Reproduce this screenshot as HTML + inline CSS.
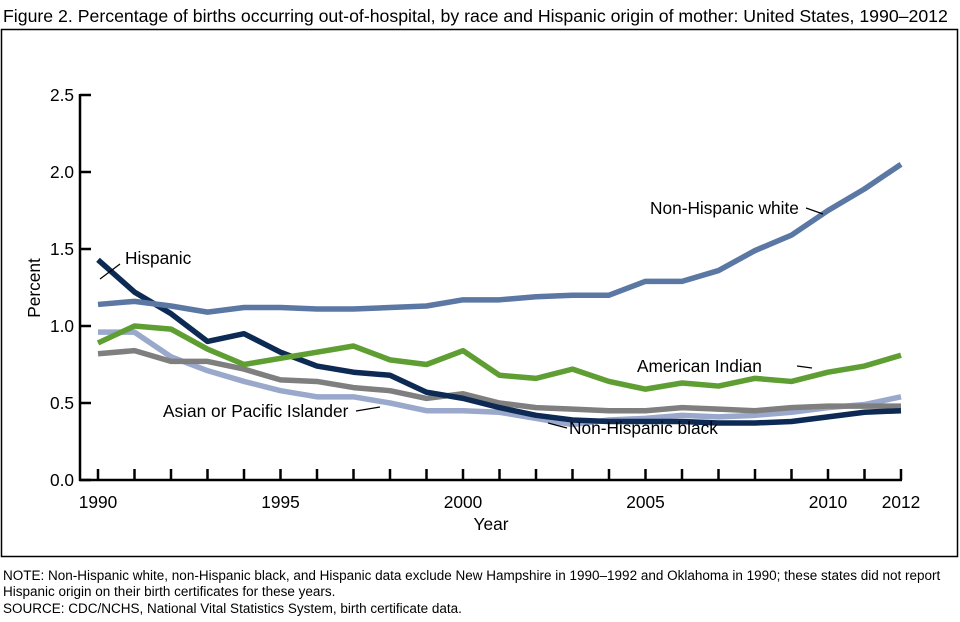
<!DOCTYPE html>
<html><head><meta charset="utf-8"><style>
body{margin:0;background:#fff;width:960px;height:617px;overflow:hidden;font-family:"Liberation Sans",Arial,sans-serif}
</style></head><body>
<svg id="s" width="960" height="617" xmlns="http://www.w3.org/2000/svg" font-family="Liberation Sans, Arial, sans-serif">
<text x="3" y="22" font-size="17.7" fill="#000">Figure 2. Percentage of births occurring out-of-hospital, by race and Hispanic origin of mother: United States, 1990–2012</text>
<rect x="1.5" y="29.5" width="956" height="527" fill="none" stroke="#000" stroke-width="1.5"/>
<g id="axes" stroke="#000" stroke-width="2.5" fill="none"></g>
<g id="lines" fill="none" stroke-width="5.5" stroke-linejoin="round"></g>
<g font-size="17.3" fill="#000" id="txt">
<text x="40" y="288" transform="rotate(-90 40 288)" text-anchor="middle">Percent</text>
<text x="491" y="530" text-anchor="middle">Year</text>
<text x="125" y="264">Hispanic</text>
<text x="650" y="214">Non-Hispanic white</text>
<text x="637" y="372">American Indian</text>
<text x="569" y="434">Non-Hispanic black</text>
<text x="163" y="417">Asian or Pacific Islander</text>
</g>
<g stroke="#000" stroke-width="1.2">
<line x1="120" y1="264" x2="100" y2="279"/>
<line x1="806" y1="208" x2="823" y2="214"/>
<line x1="797" y1="366" x2="812" y2="368"/>
<line x1="567" y1="428" x2="548" y2="423"/>
<line x1="356" y1="411" x2="380" y2="407"/>
</g>
<g font-size="13.5" fill="#000">
<text x="3" y="580">NOTE: Non-Hispanic white, non-Hispanic black, and Hispanic data exclude New Hampshire in 1990–1992 and Oklahoma in 1990; these states did not report</text>
<text x="3" y="596">Hispanic origin on their birth certificates for these years.</text>
<text x="3" y="613">SOURCE: CDC/NCHS, National Vital Statistics System, birth certificate data.</text>
</g>
</svg>
<script>
var X=function(i){return 98+36.5*i},Y=function(v){return 480-154*v};
var ax=document.getElementById('axes'),tx=document.getElementById('txt'),ln=document.getElementById('lines');
var h='<line x1="80" y1="94" x2="80" y2="481"/><line x1="79" y1="480" x2="902" y2="480"/>';
for(var v=0;v<=2.5;v+=0.5){h+='<line x1="80" y1="'+Y(v)+'" x2="91" y2="'+Y(v)+'"/>';}
for(var i=0;i<=22;i++){h+='<line x1="'+X(i)+'" y1="480" x2="'+X(i)+'" y2="469"/>';}
ax.innerHTML=h;
var t='';
['0.0','0.5','1.0','1.5','2.0','2.5'].forEach(function(s,k){t+='<text x="74" y="'+(Y(k*0.5)+6)+'" text-anchor="end">'+s+'</text>';});
[[0,'1990'],[5,'1995'],[10,'2000'],[15,'2005'],[20,'2010'],[22,'2012']].forEach(function(a){t+='<text x="'+X(a[0])+'" y="508" text-anchor="middle">'+a[1]+'</text>';});
tx.insertAdjacentHTML('beforeend',t);
var D=[
['#9aa8cc',[0.96,0.96,0.80,0.71,0.64,0.58,0.54,0.54,0.50,0.45,0.45,0.44,0.40,0.36,0.39,0.40,0.42,0.41,0.42,0.44,0.47,0.49,0.54]],
['#7f7f7f',[0.82,0.84,0.77,0.77,0.72,0.65,0.64,0.60,0.58,0.53,0.56,0.50,0.47,0.46,0.45,0.45,0.47,0.46,0.45,0.47,0.48,0.48,0.48]],
['#0d2a55',[1.43,1.22,1.08,0.90,0.95,0.83,0.74,0.70,0.68,0.57,0.53,0.47,0.42,0.39,0.38,0.38,0.38,0.37,0.37,0.38,0.41,0.44,0.45]],
['#5e9e33',[0.89,1.00,0.98,0.85,0.75,0.79,0.83,0.87,0.78,0.75,0.84,0.68,0.66,0.72,0.64,0.59,0.63,0.61,0.66,0.64,0.70,0.74,0.81]],
['#5b77a3',[1.14,1.16,1.13,1.09,1.12,1.12,1.11,1.11,1.12,1.13,1.17,1.17,1.19,1.20,1.20,1.29,1.29,1.36,1.49,1.59,1.75,1.89,2.05]]];
var l='';
D.forEach(function(d){l+='<polyline stroke="'+d[0]+'" points="'+d[1].map(function(v,i){return X(i)+','+Y(v)}).join(' ')+'"/>';});
ln.innerHTML=l;
</script>
</body></html>
